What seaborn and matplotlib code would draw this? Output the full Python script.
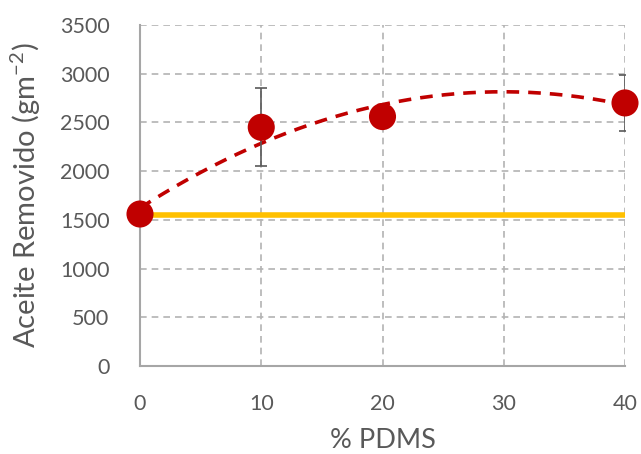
import numpy as np
import pandas as pd
import matplotlib
matplotlib.use("Agg")
import matplotlib.pyplot as plt
import seaborn as sns

pdms = [0, 10, 20, 40]
aceite = [1560, 2450, 2560, 2700]
yerr = [0, 400, 0, 290]
xerr = [0, 0.6, 0.6, 0.4]
baseline = 1550
xticks = [0, 10, 20, 30, 40]
yticks = [0, 500, 1000, 1500, 2000, 2500, 3000, 3500]

sns.set_theme(style="white")
plt.rcParams['font.family'] = ['Lato', 'DejaVu Sans']
plt.rcParams['mathtext.fontset'] = 'custom'
plt.rcParams['mathtext.rm'] = 'Lato'
plt.rcParams['mathtext.it'] = 'Lato'

df = pd.DataFrame({"pdms": pdms, "aceite": aceite})

fig = plt.figure(figsize=(6.41, 4.54), dpi=100)
ax = fig.add_axes([140/641, 1-366/454, (625-140)/641, (366-25)/454])

# grid
for xv in xticks[1:]:
    ax.axvline(xv, color="#b3b3b3", lw=1.2, ls=(0, (4, 3)), zorder=0)
for yv in yticks[1:]:
    ax.axhline(yv, color="#b3b3b3", lw=1.2, ls=(0, (4, 3)), zorder=0)

# baseline
ax.plot([0, 40], [baseline, baseline], color="#FFC000", lw=4, zorder=2, solid_capstyle="butt")

# trendline (2nd order polynomial fit)
coef = np.polyfit(pdms, aceite, 2)
xs = np.linspace(0, 40, 200)
ax.plot(xs, np.polyval(coef, xs), color="#C00000", lw=2.6, ls=(0, (3.5, 2.5)), zorder=3)

# error bars
ax.errorbar(pdms, aceite, yerr=yerr, xerr=xerr, fmt="none", ecolor="#595959",
            elinewidth=1.2, capsize=4, capthick=1.2, zorder=3)

sns.scatterplot(data=df, x="pdms", y="aceite", s=380, color="#C00000",
                edgecolor="none", ax=ax, zorder=4, clip_on=False)

ax.set_xlim(0, 40)
ax.set_ylim(0, 3500)
ax.set_xticks(xticks)
ax.set_yticks(yticks)
ax.tick_params(axis="y", labelsize=15.5, colors="#595959", length=0, pad=22)
ax.tick_params(axis="x", labelsize=15.5, colors="#595959", length=0, pad=20)
ax.set_xlabel("% PDMS", fontsize=19.5, color="#595959", labelpad=10)
ax.set_ylabel("Aceite Removido (gm$^{\\mathregular{-2}}$)", fontsize=21, color="#595959", labelpad=12)

for s in ["top", "right"]:
    ax.spines[s].set_visible(False)
for s in ["left", "bottom"]:
    ax.spines[s].set_color("#a6a6a6")
    ax.spines[s].set_linewidth(1.5)

fig.savefig("out.png", dpi=100)
